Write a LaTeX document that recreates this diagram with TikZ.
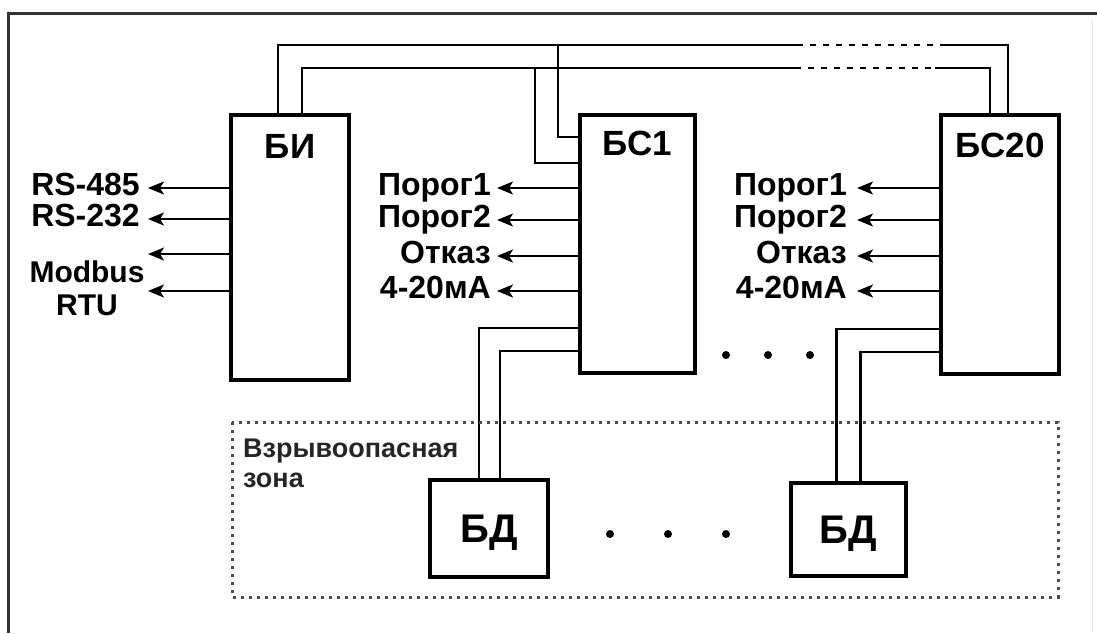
\documentclass[tikz,border=0pt]{standalone}
\usepackage{fontspec}
\setmainfont{Liberation Sans}
\usetikzlibrary{arrows.meta,positioning}
\begin{document}
\begin{tikzpicture}[x=1pt, y=-1pt,
	blk/.style={draw, line width=3.5pt, rectangle, inner sep=0pt, outer sep=0pt},
	ttl/.style={inner sep=0pt, font=\fontsize{35}{40}\selectfont\bfseries, text height=25pt, text depth=0pt},
	bdttl/.style={font=\fontsize{40}{46}\selectfont\bfseries, text height=28pt, text depth=0pt},
	lbl/.style={inner ysep=0pt, font=\fontsize{32}{36}\selectfont\bfseries, text height=15pt, text depth=0pt, anchor=east},
	wire/.style={line width=2.2pt},
	dotline/.style={dash pattern=on 6pt off 7pt},
	sig/.style={line width=2.2pt, -{Stealth[length=16pt, width=13pt, inset=4pt]}},
	zone/.style={draw=black!70, line width=3pt, dash pattern=on 3pt off 5pt}]
	\useasboundingbox (0,0) rectangle (1097,633);
	
	% 1. рамка
	\draw[black!80, line width=3pt] (8,633) -- (8,13) -- (1097,13);
	\draw[black!10, line width=1pt] (1092,20) -- (1092,633);
	
	% 2. блоки
	\node[blk, minimum width=118pt, minimum height=265pt] (bi) at (290,247.5) {};
	\node[blk, minimum width=115pt, minimum height=258pt] (bs1) at (637.5,244) {};
	\node[blk, minimum width=118pt, minimum height=259pt] (bs20) at (1000,244.5) {};
	\node[blk, bdttl, minimum width=118pt, minimum height=97pt] (bd1) at (489,528.5) {БД};
	\node[blk, bdttl, minimum width=115pt, minimum height=93pt] (bd2) at (848.5,529.5) {БД};
	\node[ttl, below=18pt of bi.north] (biT) {БИ};
	\node[ttl, below=15pt of bs1.north] (bs1T) {БС1};
	\node[ttl, below=17pt of bs20.north] (bs20T) {БС20};
	
	% 3. шина
	\coordinate (busA) at (558,45);
	\coordinate (busB) at (535,68);
	\coordinate (gapA1) at (797,45);
	\coordinate (gapA2) at (940,45);
	\coordinate (gapB1) at (795,68);
	\coordinate (gapB2) at (935,68);
	\draw[wire] ([xshift=47pt]bi.north west) |- (gapA1);
	\draw[wire, dotline] (gapA1) -- (gapA2);
	\draw[wire] (gapA2) -| ([xshift=67pt]bs20.north west);
	\draw[wire] ([xshift=71pt]bi.north west) |- (gapB1);
	\draw[wire, dotline] (gapB1) -- (gapB2);
	\draw[wire] (gapB2) -| ([xshift=49pt]bs20.north west);
	\draw[wire] (busA) |- ([yshift=-22pt]bs1.north west);
	\draw[wire] (busB) |- ([yshift=-48pt]bs1.north west);
	
	% 4. линии к датчикам
	\draw[wire] ([yshift=45pt]bs1.south west) -| ([xshift=-10pt]bd1.north);
	\draw[wire] ([yshift=22pt]bs1.south west) -| ([xshift=11pt]bd1.north);
	\draw[wire] ([yshift=45pt]bs20.south west) -| ([xshift=-12pt]bd2.north);
	\draw[wire] ([yshift=22pt]bs20.south west) -| ([xshift=12pt]bd2.north);
	
	% 5. выходы БИ
	\node[lbl, inner xsep=8pt] (rs485) at (148,188) {RS-485};
	\node[lbl, inner xsep=8pt] (rs232) at (148,219) {RS-232};
	\node[align=center, inner sep=0pt, font=\fontsize{30}{33}\selectfont\bfseries] (modbus) at (87,288) {Modbus\\RTU};
	\coordinate (mb1) at (148,254);
	\coordinate (mb2) at (148,291);
	\draw[sig] (bi.west |- rs485.east) -- (rs485.east);
	\draw[sig] (bi.west |- rs232.east) -- (rs232.east);
	\draw[sig] (bi.west |- mb1) -- (mb1);
	\draw[sig] (bi.west |- mb2) -- (mb2);
	
	% 6. выходы БС1
	\node[lbl, inner xsep=6pt] (p1a) at (497,188) {Порог1};
	\node[lbl, inner xsep=6pt] (p2a) at (497,220) {Порог2};
	\node[lbl, inner xsep=6pt] (fla) at (497,256) {Отказ};
	\node[lbl, inner xsep=6pt] (maa) at (497,291) {4-20мА};
	\draw[sig] (bs1.west |- p1a.east) -- (p1a.east);
	\draw[sig] (bs1.west |- p2a.east) -- (p2a.east);
	\draw[sig] (bs1.west |- fla.east) -- (fla.east);
	\draw[sig] (bs1.west |- maa.east) -- (maa.east);
	
	% 7. выходы БС20
	\node[lbl, inner xsep=10pt] (p1b) at (857,188) {Порог1};
	\node[lbl, inner xsep=10pt] (p2b) at (857,220) {Порог2};
	\node[lbl, inner xsep=10pt] (flb) at (857,256) {Отказ};
	\node[lbl, inner xsep=10pt] (mab) at (857,291) {4-20мА};
	\draw[sig] (bs20.west |- p1b.east) -- (p1b.east);
	\draw[sig] (bs20.west |- p2b.east) -- (p2b.east);
	\draw[sig] (bs20.west |- flb.east) -- (flb.east);
	\draw[sig] (bs20.west |- mab.east) -- (mab.east);
	
	% 8. взрывоопасная зона
	\draw[zone] (232,422) rectangle (1058,597);
	\node[align=left, inner sep=0pt, anchor=north west, text=black!85, font=\fontsize{27}{30}\selectfont\bfseries] (zona) at (243,439) {Взрывоопасная\\зона};
	
	% 9. многоточия
	\foreach \x in {726,768,810} \fill (\x,355) circle (4pt);
	\foreach \x in {610,668,726} \fill (\x,534) circle (4pt);
\end{tikzpicture}
\end{document}
